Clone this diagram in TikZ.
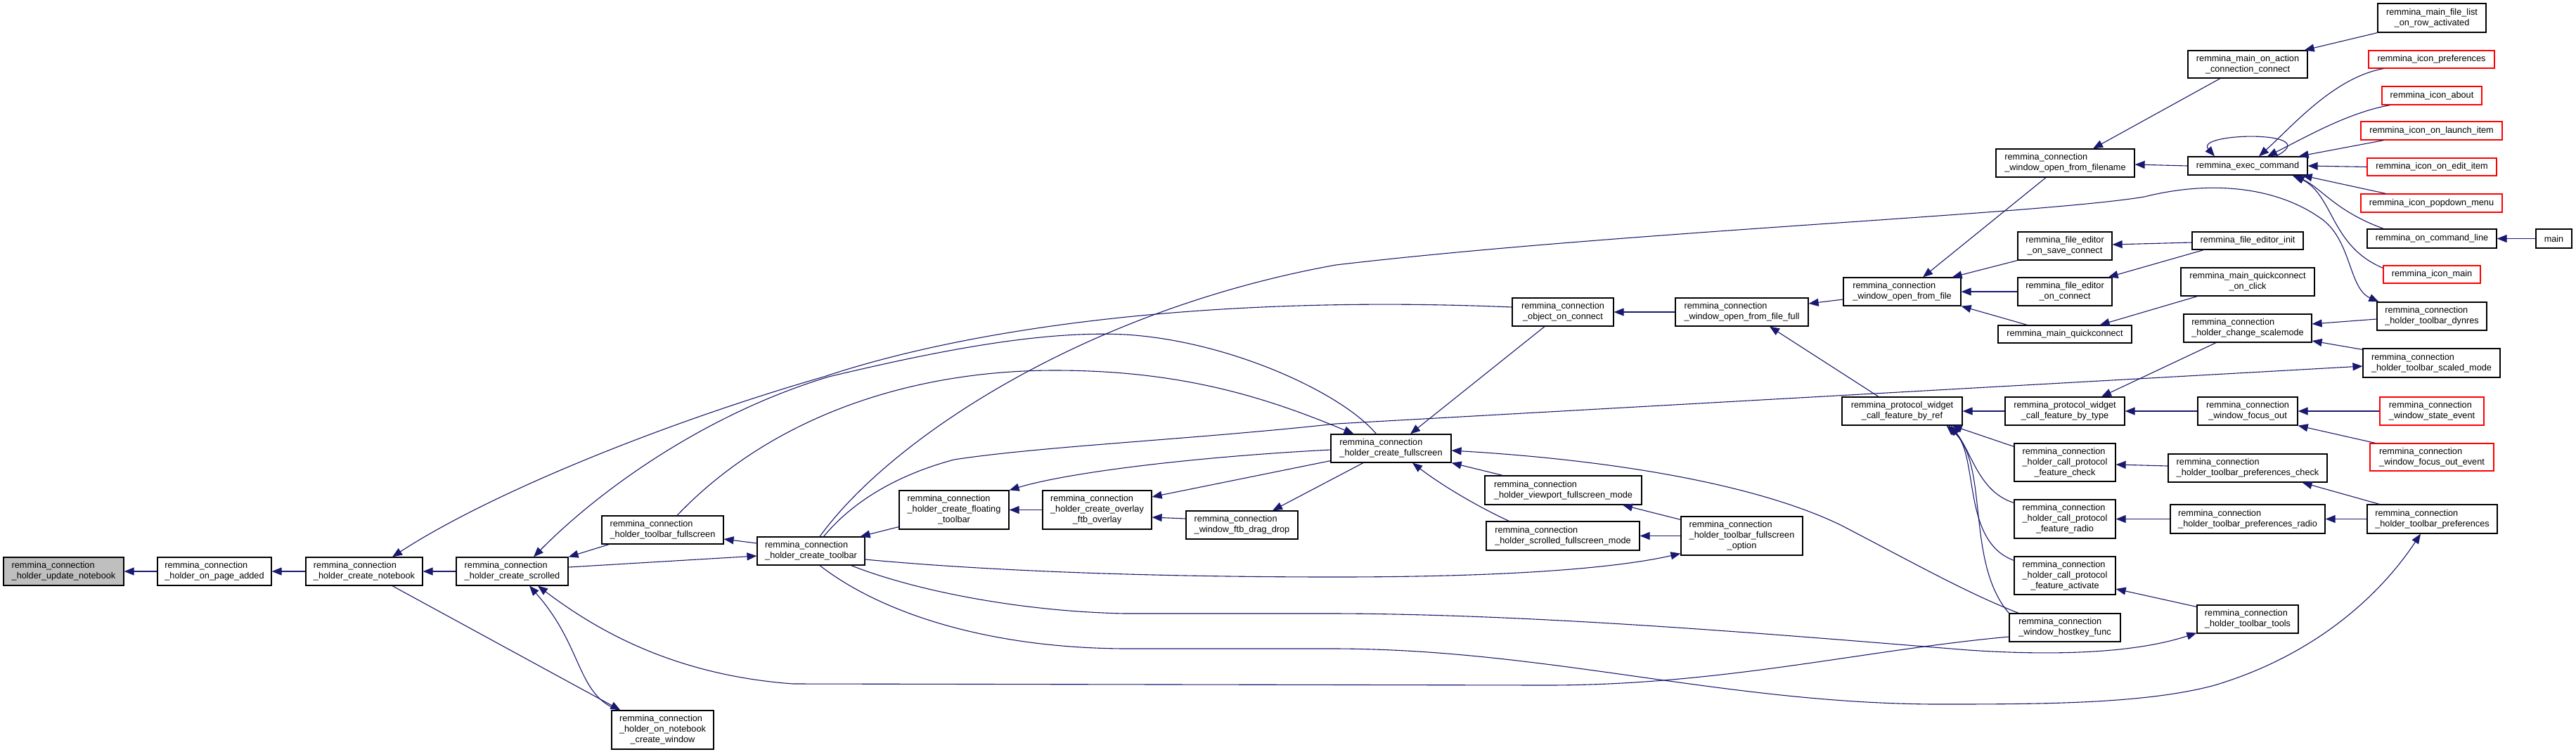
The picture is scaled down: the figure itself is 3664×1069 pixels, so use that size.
\documentclass[tikz,border=0pt]{standalone}
\usepackage{fontspec}
\setmainfont{Liberation Sans}
\usetikzlibrary{arrows.meta}
\definecolor{edgeblue}{HTML}{191970}
\definecolor{rootgray}{HTML}{BFBFBF}
\newcommand\twoline[2]{\begin{tabular}{@{}l@{}}#1\\\multicolumn{1}{@{}c@{}}{#2}\end{tabular}}
\newcommand\threeline[3]{\begin{tabular}{@{}l@{}}#1\\#2\\\multicolumn{1}{@{}c@{}}{#3}\end{tabular}}
\begin{document}
\begin{tikzpicture}[x=1pt,y=-1pt,
  fn/.style={draw=black, line width=1.2pt, fill=white, inner sep=0pt, font=\fontsize{12.7}{15}\selectfont},
  rn/.style={draw=red},
  wh/.style 2 args={minimum width=#1pt, minimum height=#2pt},
  ed/.style={draw=edgeblue, line width=1.1pt, arrows={Triangle[length=14pt,width=11pt]-}}]
\fill[white] (0,0) rectangle (3664,1069);
\useasboundingbox (0,0) rectangle (3664,1069);
% nodes
\node[fn, fill=rootgray, wh={171}{40}] (un) at (90.5,813) {\twoline{remmina\_connection}{\_holder\_update\_notebook}};
\node[fn, wh={162}{40}] (opa) at (305,813) {\twoline{remmina\_connection}{\_holder\_on\_page\_added}};
\node[fn, wh={166}{40}] (cnb) at (518,813) {\twoline{remmina\_connection}{\_holder\_create\_notebook}};
\node[fn, wh={159}{40}] (csc) at (728.5,813) {\twoline{remmina\_connection}{\_holder\_create\_scrolled}};
\node[fn, wh={173}{40}] (tfs) at (942.5,754) {\twoline{remmina\_connection}{\_holder\_toolbar\_fullscreen}};
\node[fn, wh={145}{55}] (ocw) at (942.5,1038.5) {\threeline{remmina\_connection}{\_holder\_on\_notebook}{\_create\_window}};
\node[fn, wh={153}{40}] (ctb) at (1153.5,784) {\twoline{remmina\_connection}{\_holder\_create\_toolbar}};
\node[fn, wh={156}{55}] (cft) at (1357,725.5) {\threeline{remmina\_connection}{\_holder\_create\_floating}{\_toolbar}};
\node[fn, wh={155}{55}] (cfo) at (1560.5,725.5) {\threeline{remmina\_connection}{\_holder\_create\_overlay}{\_ftb\_overlay}};
\node[fn, wh={159}{40}] (fdd) at (1766.5,747) {\twoline{remmina\_connection}{\_window\_ftb\_drag\_drop}};
\node[fn, wh={171}{40}] (cfs) at (1978.5,638) {\twoline{remmina\_connection}{\_holder\_create\_fullscreen}};
\node[fn, wh={144}{40}] (ooc) at (2223,444) {\twoline{remmina\_connection}{\_object\_on\_connect}};
\node[fn, wh={189}{40}] (off) at (2477.5,444) {\twoline{remmina\_connection}{\_window\_open\_from\_file\_full}};
\node[fn, wh={167}{40}] (oft) at (2705.5,415) {\twoline{remmina\_connection}{\_window\_open\_from\_file}};
\node[fn, wh={171}{40}] (pbr) at (2705.5,585) {\twoline{remmina\_protocol\_widget}{\_call\_feature\_by\_ref}};
\node[fn, wh={223}{41}] (vfm) at (2223.5,697.5) {\twoline{remmina\_connection}{\_holder\_viewport\_fullscreen\_mode}};
\node[fn, wh={218}{41}] (sfm) at (2223,762.5) {\twoline{remmina\_connection}{\_holder\_scrolled\_fullscreen\_mode}};
\node[fn, wh={173}{55}] (tfo) at (2477.5,762.5) {\threeline{remmina\_connection}{\_holder\_toolbar\_fullscreen}{\_option}};
\node[fn, wh={154}{41}] (mfl) at (3459,25.5) {\twoline{remmina\_main\_file\_list}{\_on\_row\_activated}};
\node[fn, wh={170}{39}] (mac) at (3197,91.5) {\twoline{remmina\_main\_on\_action}{\_connection\_connect}};
\node[fn, rn, wh={179}{25}] (ipr) at (3458.5,84.5) {remmina\_icon\_preferences};
\node[fn, rn, wh={142}{26}] (iab) at (3459,136) {remmina\_icon\_about};
\node[fn, rn, wh={201}{26}] (ili) at (3458.5,186) {remmina\_icon\_on\_launch\_item};
\node[fn, rn, wh={184}{25}] (iei) at (3459,237.5) {remmina\_icon\_on\_edit\_item};
\node[fn, rn, wh={201}{26}] (ipm) at (3458.5,289) {remmina\_icon\_popdown\_menu};
\node[fn, wh={184}{27}] (ocl) at (3459,339.5) {remmina\_on\_command\_line};
\node[fn, wh={51}{27}] (mn) at (3632.5,339.5) {main};
\node[fn, rn, wh={138}{25}] (imn) at (3459,390.5) {remmina\_icon\_main};
\node[fn, wh={156}{40}] (tdr) at (3459,450) {\twoline{remmina\_connection}{\_holder\_toolbar\_dynres}};
\node[fn, wh={170}{26}] (exc) at (3197,236) {remmina\_exec\_command};
\node[fn, wh={197}{40}] (ofn) at (2937.5,232) {\twoline{remmina\_connection}{\_window\_open\_from\_filename}};
\node[fn, wh={134}{40}] (fsc) at (2937,350) {\twoline{remmina\_file\_editor}{\_on\_save\_connect}};
\node[fn, wh={158}{25}] (fei) at (3197,342.5) {remmina\_file\_editor\_init};
\node[fn, wh={134}{40}] (fec) at (2937,415) {\twoline{remmina\_file\_editor}{\_on\_connect}};
\node[fn, wh={190}{40}] (mqc) at (3197,401) {\twoline{remmina\_main\_quickconnect}{\_on\_click}};
\node[fn, wh={190}{25}] (mq) at (2937,475.5) {remmina\_main\_quickconnect};
\node[fn, wh={182}{40}] (csm) at (3197,467) {\twoline{remmina\_connection}{\_holder\_change\_scalemode}};
\node[fn, wh={195}{41}] (tsm) at (3458.5,516.5) {\twoline{remmina\_connection}{\_holder\_toolbar\_scaled\_mode}};
\node[fn, wh={170}{40}] (pbt) at (2937,585) {\twoline{remmina\_protocol\_widget}{\_call\_feature\_by\_type}};
\node[fn, wh={142}{40}] (wfo) at (3197,585) {\twoline{remmina\_connection}{\_window\_focus\_out}};
\node[fn, rn, wh={148}{40}] (wse) at (3459,585) {\twoline{remmina\_connection}{\_window\_state\_event}};
\node[fn, rn, wh={176}{39}] (foe) at (3459,650.5) {\twoline{remmina\_connection}{\_window\_focus\_out\_event}};
\node[fn, wh={144}{54}] (fck) at (2937,658) {\threeline{remmina\_connection}{\_holder\_call\_protocol}{\_feature\_check}};
\node[fn, wh={226}{40}] (tpc) at (3197,666) {\twoline{remmina\_connection}{\_holder\_toolbar\_preferences\_check}};
\node[fn, wh={144}{55}] (frd) at (2937,738.5) {\threeline{remmina\_connection}{\_holder\_call\_protocol}{\_feature\_radio}};
\node[fn, wh={220}{41}] (tpr) at (3197,738.5) {\twoline{remmina\_connection}{\_holder\_toolbar\_preferences\_radio}};
\node[fn, wh={185}{41}] (tpf) at (3459.5,738.5) {\twoline{remmina\_connection}{\_holder\_toolbar\_preferences}};
\node[fn, wh={144}{54}] (fac) at (2937,819) {\threeline{remmina\_connection}{\_holder\_call\_protocol}{\_feature\_activate}};
\node[fn, wh={144}{40}] (ttl) at (3197,881) {\twoline{remmina\_connection}{\_holder\_toolbar\_tools}};
\node[fn, wh={158}{40}] (hkf) at (2937,893) {\twoline{remmina\_connection}{\_window\_hostkey\_func}};
% edges (arrow at callee)
\draw[ed] (un.east) -- (opa.west);
\draw[ed] (opa.east) -- (cnb.west);
\draw[ed] (cnb.east) -- (csc.west);
\draw[ed] ([xshift=40pt]cnb.north) .. controls (700,700) and (950,600) .. (1172,536) .. controls (1400,460) and (1750,420) .. ([yshift=7pt]ooc.west);
\draw[ed] ([xshift=30.5pt]csc.north) .. controls (850,700) and (1000,590) .. (1179,536) .. controls (1330,500) and (1480,470) .. (1600,476) .. controls (1750,485) and (1910,560) .. ([xshift=-21pt]cfs.north);
\draw[ed] ([xshift=-53pt]cfs.north) .. controls (1800,565) and (1680,527) .. (1500,527) .. controls (1300,527) and (1100,590) .. ([xshift=20.5pt]tfs.north);
\draw[ed] ([xshift=3pt]tdr.north west) .. controls (3340,410) and (3345,340) .. (3300,310) .. controls (3240,268) and (3150,255) .. (3050,280) .. controls (2900,305) and (2300,330) .. (1900,377) .. controls (1550,440) and (1270,620) .. ([xshift=12.5pt]ctb.north);
\draw[ed] ([yshift=-4.5pt]tsm.west) -- (1900,603) .. controls (1700,625) and (1480,635) .. (1357,654) .. controls (1290,672) and (1220,705) .. ([xshift=18pt]ctb.north);
\draw[ed] ([xshift=-7pt]ctb.north east) -- ([yshift=4pt]cft.south west);
\draw[ed] (cft.north east) .. controls (1520,672) and (1700,650) .. ([yshift=-2pt]cfs.west);
\draw[ed] (cft.east) -- (cfo.west);
\draw[ed] ([yshift=18.5pt]cfo.east) -- ([yshift=3pt]cfs.south west);
\draw[ed] ([yshift=-10.5pt]cfo.east) -- ([yshift=9pt]fdd.west);
\draw[ed] ([xshift=43.5pt]fdd.north) -- ([xshift=-39.5pt]cfs.south);
\draw[ed] ([yshift=-13pt]tfs.east) -- ([yshift=11pt]ctb.west);
\draw[ed] ([yshift=-7pt]ctb.west) -- ([yshift=6pt]csc.east);
\draw[ed] (csc.north east) -- ([xshift=11pt]tfs.south west);
\draw[ed] ([yshift=3pt]tfo.south west) .. controls (2300,808) and (2150,821) .. (1900,821) .. controls (1600,821) and (1380,810) .. ([yshift=-12pt]ctb.east);
\draw[ed] ([yshift=1pt]ttl.south west) .. controls (3050,925) and (2950,935) .. (2800,925) .. controls (2550,905) and (2200,874) .. (1900,873) -- (1600,873) .. controls (1450,870) and (1300,840) .. ([xshift=-20pt]ctb.south east);
\draw[ed] ([xshift=-16.5pt]tpf.south) .. controls (3390,840) and (3300,930) .. (3150,975) .. controls (3050,1002) and (2900,1002) .. (2750,1002) .. controls (2450,1000) and (2200,924) .. (1900,923) -- (1600,923) .. controls (1400,922) and (1250,870) .. ([xshift=12.5pt]ctb.south);
\draw[ed] ([xshift=36.5pt]csc.south) .. controls (840,890) and (950,960) .. (1128,973) -- (2200,975) .. controls (2450,975) and (2650,925) .. ([yshift=-13pt]hkf.west);
\draw[ed] ([xshift=24.5pt]csc.south) .. controls (830,920) and (820,990) .. ([xshift=11pt]ocw.north west);
\draw[ed] ([xshift=13pt]ocw.north west) -- ([xshift=40pt]cnb.south);
\draw[ed] ([xshift=27.5pt]cfs.north) -- ([xshift=-26pt]ooc.south);
\draw[ed] ([yshift=-3pt]cfs.east) .. controls (2300,655) and (2500,690) .. (2618,747) .. controls (2720,800) and (2800,845) .. ([xshift=14pt]hkf.north west);
\draw[ed] (cfs.south east) -- ([xshift=26pt]vfm.north west);
\draw[ed] ([xshift=30.5pt]cfs.south) .. controls (2050,690) and (2100,720) .. ([xshift=33pt]sfm.north west);
\draw[ed] ([xshift=84.5pt]vfm.south) -- ([yshift=-5pt]tfo.north west);
\draw[ed] (sfm.east) -- (tfo.west);
\draw[ed] (ooc.east) -- (off.west);
\draw[ed] ([yshift=12pt]off.east) -- ([yshift=-11pt]oft.west);
\draw[ed] ([xshift=39.5pt]off.south) -- ([xshift=-33.5pt]pbr.north);
\draw[ed] ([xshift=29.5pt]oft.north) -- ([xshift=-27.5pt]ofn.south);
\draw[ed] ([xshift=-13pt]oft.north east) -- (fsc.south west);
\draw[ed] (oft.east) -- (fec.west);
\draw[ed] (oft.south east) -- ([xshift=42pt]mq.north west);
\draw[ed] (pbr.east) -- (pbt.west);
\draw[ed] ([xshift=-15pt]pbr.south east) -- ([yshift=-5pt]fck.north west);
\draw[ed] ([xshift=-17pt]pbr.south east) .. controls (2805,645) and (2815,700) .. ([yshift=-5pt]frd.north west);
\draw[ed] ([xshift=-20pt]pbr.south east) .. controls (2815,650) and (2790,770) .. ([yshift=-6pt]fac.north west);
\draw[ed] ([xshift=-23pt]pbr.south east) .. controls (2830,660) and (2795,800) .. (hkf.north west);
\draw[ed] ([xshift=52pt]pbt.north) -- ([xshift=-45pt]csm.south);
\draw[ed] (pbt.east) -- (wfo.west);
\draw[ed] (wfo.east) -- (wse.west);
\draw[ed] (wfo.south east) -- ([xshift=8pt]foe.north west);
\draw[ed] ([yshift=-3pt]fck.east) -- ([yshift=3pt]tpc.west);
\draw[ed] (frd.east) -- (tpr.west);
\draw[ed] ([xshift=-36pt]tpc.south east) -- ([xshift=18pt]tpf.north west);
\draw[ed] (tpr.east) -- (tpf.west);
\draw[ed] ([yshift=-19pt]fac.east) -- ([yshift=-3pt]ttl.north west);
\draw[ed] ([yshift=6pt]csm.east) -- ([yshift=-4pt]tdr.west);
\draw[ed] ([yshift=-18pt]csm.east) -- ([yshift=-2pt]tsm.north west);
\draw[ed] ([xshift=-46pt]mq.north east) -- ([xshift=24pt]mqc.south west);
\draw[ed] ([yshift=2pt]fsc.east) -- ([yshift=-2.5pt]fei.west);
\draw[ed] ([xshift=-6pt]fec.north east) -- ([xshift=17pt]fei.south west);
\draw[ed] ([yshift=-2pt]ofn.east) -- (exc.west);
\draw[ed] ([xshift=39.5pt]ofn.north) -- ([xshift=-39pt]mac.south);
\draw[ed] ([xshift=-5pt]mac.north east) -- (mfl.south west);
\draw[ed] ([xshift=-47pt]exc.north) .. controls (3120,188) and (3310,185) .. ([xshift=40pt]exc.north);
\draw[ed] ([xshift=16pt]exc.north) .. controls (3260,180) and (3320,110) .. ([xshift=22pt]ipr.south west);
\draw[ed] ([xshift=28pt]exc.north) .. controls (3280,195) and (3340,160) .. ([xshift=12pt]iab.south west);
\draw[ed] ([xshift=-13pt]exc.north east) -- ([xshift=33pt]ili.south west);
\draw[ed] (exc.east) -- (iei.west);
\draw[ed] ([xshift=-8pt]exc.south east) -- ([xshift=36pt]ipm.north west);
\draw[ed] ([xshift=-22pt]exc.south east) .. controls (3300,265) and (3320,300) .. ([xshift=24pt]ocl.north west);
\draw[ed] ([xshift=-19pt]exc.south east) .. controls (3320,280) and (3315,350) .. ([yshift=-4pt]imn.north west);
\draw[ed] (ocl.east) -- (mn.west);
\end{tikzpicture}
\end{document}
